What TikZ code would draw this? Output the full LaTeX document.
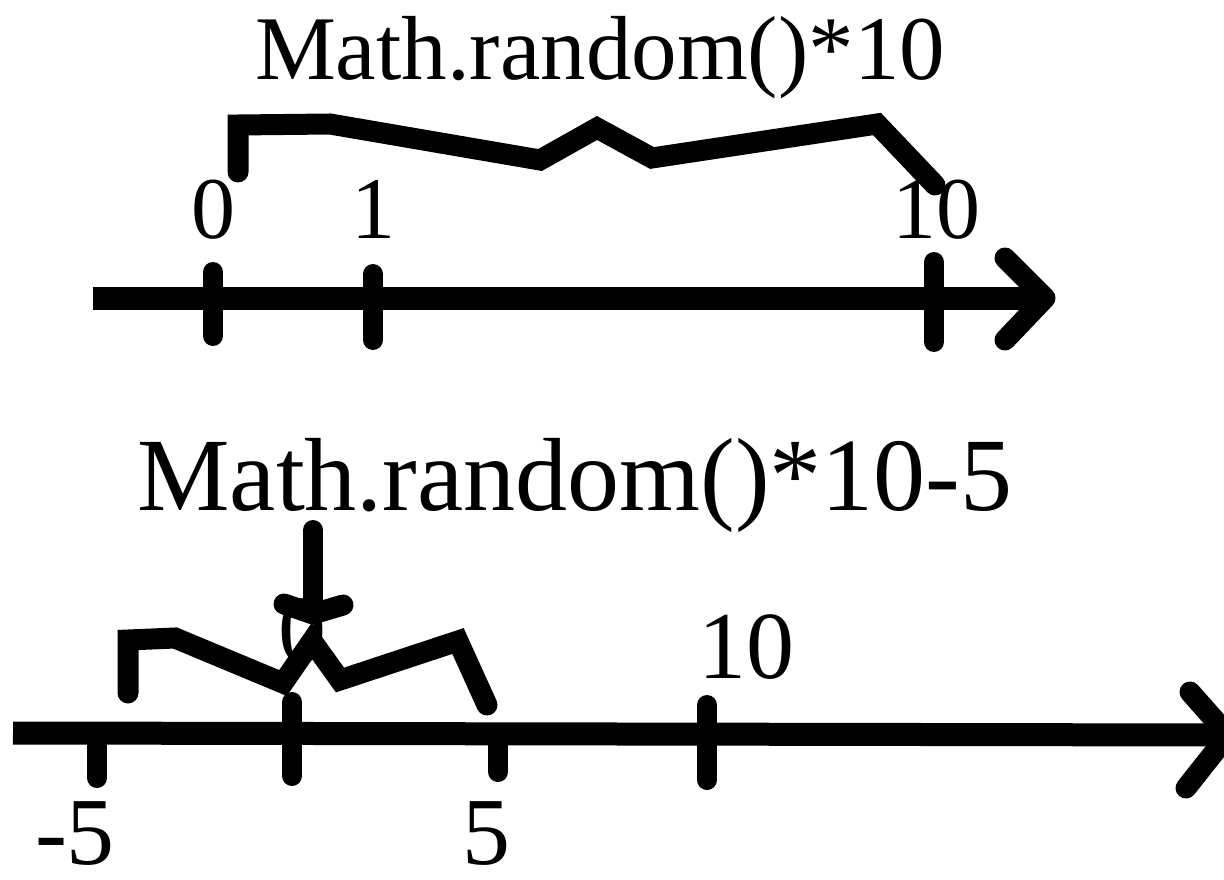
\documentclass[tikz,border=0pt]{standalone}
\usepackage{fontspec}
\setmainfont{Liberation Serif}
\begin{document}
\begin{tikzpicture}[x=1pt,y=-1pt,
  axis/.style={line width=23pt,line cap=butt},
  tick/.style={line width=20pt,line cap=round},
  zig/.style={line width=21pt,line cap=round,line join=miter},
  head/.style={line width=21pt,line cap=round,line join=round},
  bigtitle/.style={inner sep=0pt,anchor=base,font=\fontsize{91}{100}\selectfont},
  bigtitleB/.style={inner sep=0pt,anchor=base,font=\fontsize{104}{112}\selectfont},
  numA/.style={inner sep=0pt,anchor=base,font=\fontsize{88}{96}\selectfont},
  numB/.style={inner sep=0pt,anchor=base,font=\fontsize{96}{104}\selectfont}]
\useasboundingbox (0,0) rectangle (1224,880);
\fill[white] (0,0) rectangle (1224,880);

% ---------- top ----------
\node[bigtitle] (t1) at (600,80) {Math.random()*10};
\node[numA] (a0) at (213,238) {0};
\node[numA] (a1) at (373,238) {1};
\node[numA] (a10) at (936,238) {10};

\coordinate (aL) at (93,298);
\coordinate (aT) at (1045,298);
\draw[axis] (aL) -- (aT);
\draw[head] (1005,258) -- (aT) -- (1005,340);
\draw[tick] (213,272) -- (213,336);
\draw[tick] (373,274) -- (373,340);
\draw[tick] (934,262) -- (934,342);
\draw[zig] (238,172) -- (238,125) -- (330,124) -- (540,160) -- (597,128) -- (652,158) -- (877,124) -- (935,185);

% ---------- bottom ----------
\node[bigtitleB] (t2) at (575,510) {Math.random()*10-5};
\node[numB] (b0) at (302,662) {0};
\node[numB] (b10) at (746,678) {10};
\node[numB] (bm5) at (75,864) {-5};
\node[numB] (b5) at (486,864) {5};

\coordinate (bL) at (13,733);
\coordinate (bT) at (1228,735);
\draw[axis] (bL) -- (bT);
\draw[head] (1190,692) -- (bT) -- (1186,788);
\draw[tick] (97,740) -- (97,778);
\draw[tick] (292,702) -- (292,776);
\draw[tick] (498,740) -- (498,772);
\draw[tick] (707,705) -- (707,780);
\draw[zig] (128,693) -- (128,640) -- (175,638) -- (283,683) -- (312,641) -- (340,680) -- (458,641) -- (487,705);
\coordinate (pTop) at (313,530);
\coordinate (pTip) at (313,614);
\draw[tick] (pTop) -- (pTip);
\draw[head] (284,604) -- (pTip) -- (343,605);
\end{tikzpicture}
\end{document}
